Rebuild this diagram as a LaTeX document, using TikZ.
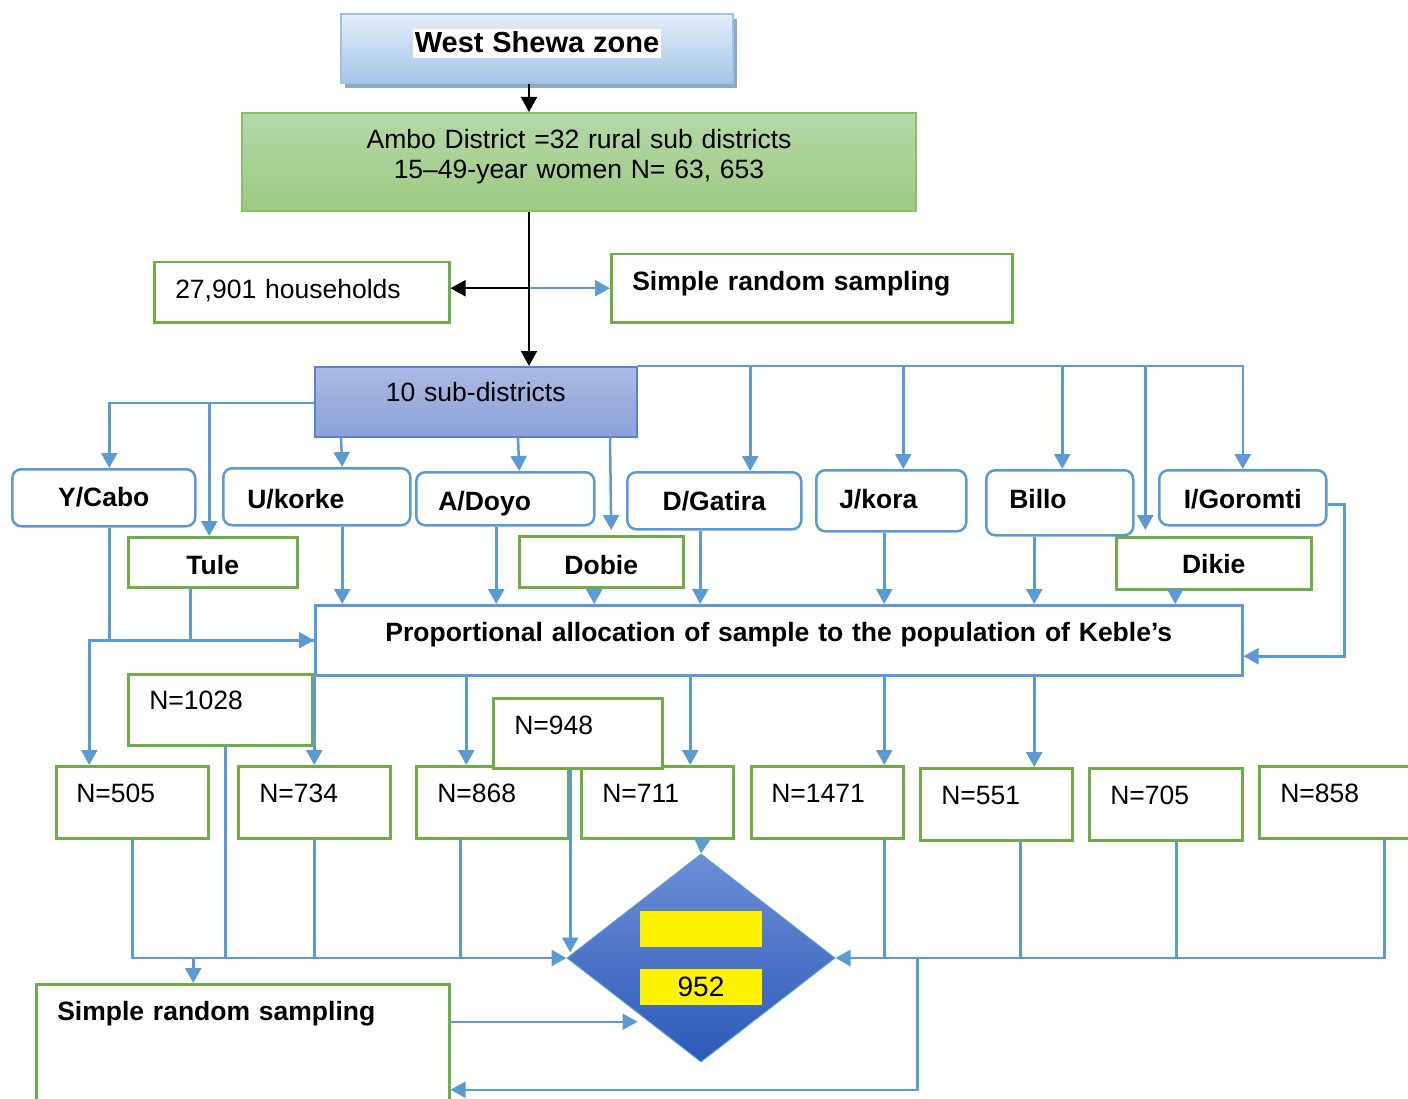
\documentclass[tikz,border=0pt]{standalone}
\usepackage{fontspec}
\setmainfont{Liberation Sans}
\usetikzlibrary{shapes.geometric,arrows.meta,shadows}
\definecolor{lineblue}{HTML}{5B9BD5}
\definecolor{boxgreen}{HTML}{70AD47}
\definecolor{zoneline}{HTML}{9CC2E5}
\definecolor{zonetop}{HTML}{E4EEF9}
\definecolor{zonebottom}{HTML}{A4C5EA}
\definecolor{zoneshadow}{HTML}{8FA8C6}
\definecolor{ambotop}{HTML}{B6D8A8}
\definecolor{ambobottom}{HTML}{9CCA82}
\definecolor{amboline}{HTML}{8CC068}
\definecolor{subtop}{HTML}{ACBAE3}
\definecolor{subbottom}{HTML}{8AA1DB}
\definecolor{subline}{HTML}{5A82D2}
\definecolor{diatop}{HTML}{6D8ED5}
\definecolor{diabottom}{HTML}{2B5AB8}
\tikzstyle{tbox} = [anchor=north west, inner ysep=0pt, align=left, fill=white]
\tikzstyle{greenbox} = [tbox, draw=boxgreen, line width=2.5pt]
\tikzstyle{roundbox} = [tbox, draw=lineblue, line width=2.5pt, rounded corners=9pt]
\tikzstyle{link} = [draw=lineblue, line width=2.5pt]
\tikzset{dims/.style n args={4}{inner xsep=#1pt, text width=#2pt, text height=#3pt, text depth=#4pt}}

\begin{document}
\begin{tikzpicture}[>={Triangle[length=15pt,width=16pt]},x=1pt,y=-1pt,font=\fontsize{26.5}{30}\selectfont]
	\useasboundingbox (0,0) rectangle (1408,1099);
	\node[tbox,dims={0}{392}{39}{30},align=center,draw=zoneline,line width=2pt,top color=zonetop,bottom color=zonebottom,
		drop shadow={shadow xshift=4pt,shadow yshift=-5pt,fill=zoneshadow,opacity=1}] (zone) at (340,13)
		{\bfseries\fontsize{29}{34}\selectfont\setlength{\fboxsep}{2pt}\colorbox{white}{\rule[-3pt]{0pt}{25pt}West Shewa zone}};
	\node[tbox,dims={0}{674}{36}{62},align=center,draw=amboline,line width=2pt,top color=ambotop,bottom color=ambobottom] (ambo) at (241,112)
		{Ambo District =32 rural sub districts\\15–49-year women N= 63, 653};
	\node[greenbox,dims={21}{253}{36}{24}] (households) at (153,261) {27,901 households};
	\node[greenbox,dims={21}{359}{36}{32}] (srs1) at (610,253) {\bfseries Simple random sampling};
	\node[tbox,dims={0}{322}{35}{35},align=center,draw=subline,line width=1.5pt,top color=subtop,bottom color=subbottom] (sub10) at (314,366) {10 sub-districts};

	\node[roundbox,dims={0}{183}{37}{20},align=center] (ycabo) at (11,468) {\bfseries Y/Cabo};
	\node[roundbox,dims={24}{139}{40}{17}] (ukorke) at (222,467) {\bfseries U/korke};
	\node[roundbox,dims={22}{134}{38}{15}] (adoyo) at (415,471) {\bfseries A/Doyo};
	\node[roundbox,dims={0}{174}{38}{19},align=center] (dgatira) at (626,471) {\bfseries D/Gatira};
	\node[roundbox,dims={23}{104}{38}{23}] (jkora) at (815,469) {\bfseries J/kora};
	\node[roundbox,dims={23}{101}{38}{27}] (billo) at (985,469) {\bfseries Billo};
	\node[roundbox,dims={0}{167}{38}{17},align=center] (igoromti) at (1158,469) {\bfseries I/Goromti};
	\node[greenbox,dims={0}{169}{37}{13},align=center] (tule) at (127,536) {\bfseries Tule};
	\node[greenbox,dims={0}{164}{38}{13},align=center] (dobie) at (518,535) {\bfseries Dobie};
	\node[greenbox,dims={0}{195}{36}{16},align=center] (dikie) at (1115,536) {\bfseries Dikie};

	\node[tbox,dims={0}{927}{36}{34},align=center,draw=lineblue,line width=2.5pt] (prop) at (314,604)
		{\bfseries Proportional allocation of sample to the population of Keble’s};

	\node[greenbox,dims={21}{142}{35}{36}] (n1028) at (127,673) {N=1028};
	\node[greenbox,dims={20}{112}{36}{36}] (n505) at (55,765) {N=505};
	\node[greenbox,dims={21}{110}{36}{36}] (n734) at (237,765) {N=734};
	\node[greenbox,dims={21}{110}{36}{36}] (n868) at (415,765) {N=868};
	\node[greenbox,dims={21}{110}{36}{36}] (n711) at (580,765) {N=711};
	\node[greenbox,dims={20}{112}{36}{36}] (n1471) at (750,765) {N=1471};
	\node[greenbox,dims={21}{110}{36}{36}] (n551) at (919,767) {N=551};
	\node[greenbox,dims={21}{111}{36}{36}] (n705) at (1088,767) {N=705};
	\node[greenbox,dims={21}{110}{36}{36}] (n858) at (1258,765) {N=858};
	\node[greenbox,dims={21}{127}{36}{34}] (n948) at (492,697) {N=948};

	\node[diamond,minimum width=268pt,minimum height=208pt,inner sep=0pt,draw=lineblue,line width=1pt,top color=diatop,bottom color=diabottom] (dia) at (701,958) {};
	\node[fill=yellow,minimum width=122pt,minimum height=36pt,inner sep=0pt] (sum) at (701,929) {};
	\node[fill=yellow,minimum width=122pt,minimum height=36pt,inner sep=0pt,font=\fontsize{28}{32}\selectfont] (total) at (701,987) {952};

	\node[greenbox,dims={21}{371}{36}{91}] (srs2) at (35,983) {\bfseries Simple random sampling};

	\coordinate (trunk) at ([xshift=-8pt]zone.south);
	\draw[link,->] (trunk |- srs1.west) -- (srs1.west);
	\draw[->,line width=2pt] (trunk |- srs1.west) -- (srs1.west -| households.east);
	\draw[->,line width=2pt] (trunk) -- (trunk |- ambo.north);
	\draw[->,line width=2pt] (trunk |- ambo.south) -- (trunk |- sub10.north);

	\draw[link,->] ([yshift=-37pt]sub10.north west) -| ([xshift=5.5pt]ycabo.north);
	\draw[link,->] ([yshift=-37pt]sub10.north west) -| ([xshift=-3.5pt]tule.north);
	\draw[link,->] ([xshift=27pt]sub10.south west) -- ([xshift=25.5pt]ukorke.north);
	\draw[link,->] ([xshift=204pt]sub10.south west) -- ([xshift=14pt]adoyo.north);
	\draw[link,->] ([xshift=296pt]sub10.south west) -- ([xshift=10pt,yshift=5pt]dobie.north);
	\draw[link,->] (sub10.north east) -| ([xshift=36pt]dgatira.north);
	\draw[link,->] (sub10.north east) -| ([xshift=12pt]jkora.north);
	\draw[link,->] (sub10.north east) -| ([xshift=2.5pt]billo.north);
	\draw[link,->] (sub10.north east) -| ([xshift=-68.5pt,yshift=6pt]dikie.north);
	\draw[link,->] (sub10.north east) -| (igoromti.north);

	\draw[link,->] ([xshift=25.5pt]ukorke.south) -- ([xshift=25.5pt]ukorke.south |- prop.north);
	\draw[link,->] ([xshift=-9pt]adoyo.south) -- ([xshift=-9pt]adoyo.south |- prop.north);
	\draw[link,->] ([xshift=-7pt]dobie.south) -- ([xshift=-7pt]dobie.south |- prop.north);
	\draw[link,->] ([xshift=-14pt]dgatira.south) -- ([xshift=-14pt]dgatira.south |- prop.north);
	\draw[link,->] ([xshift=-7pt]jkora.south) -- ([xshift=-7pt]jkora.south |- prop.north);
	\draw[link,->] ([xshift=-25.5pt]billo.south) -- ([xshift=-25.5pt]billo.south |- prop.north);
	\draw[link,->] ([xshift=-38.5pt]dikie.south) -- ([xshift=-38.5pt]dikie.south |- prop.north);
	\draw[link,->] ([yshift=-6.5pt]igoromti.east) -- ++(17,0) |- ([yshift=-16pt]prop.east);
	\draw[link,->] ([xshift=5.5pt]ycabo.south) |- (prop.west);
	\draw[link] ([xshift=-22.5pt]tule.south) -- ([xshift=-22.5pt]tule.south |- prop.west);
	\draw[link,->] (prop.west) -| ([xshift=-43pt]n505.north);

	\draw[link,->] (n734.north |- prop.south) -- (n734.north);
	\draw[link,->] ([xshift=-26pt]n868.north |- prop.south) -- ([xshift=-26pt]n868.north);
	\draw[link,->] ([xshift=33pt]n711.north |- prop.south) -- ([xshift=33pt]n711.north);
	\draw[link,->] ([xshift=57pt]n1471.north |- prop.south) -- ([xshift=57pt]n1471.north);
	\draw[link,->] ([xshift=38pt]n551.north |- prop.south) -- ([xshift=38pt]n551.north);

	\draw[link,->] ([xshift=45pt]n711.south) -- (dia.north);
	\draw[link,->] (n505.south) |- (dia.west);
	\draw[link] ([xshift=5pt]n1028.south) -- ([xshift=5pt]n1028.south |- dia.west);
	\draw[link] (n734.south) -- (n734.south |- dia.west);
	\draw[link] ([xshift=-32pt]n868.south) -- ([xshift=-32pt]n868.south |- dia.west);
	\draw[link,->] ([xshift=-7.5pt]n948.south) -- ++(0,183);
	\draw[link,->] ([xshift=-49.5pt]srs2.north |- dia.west) -- ([xshift=-49.5pt]srs2.north);
	\draw[link,->] ([xshift=49pt]n858.south) |- (dia.east);
	\draw[link] ([xshift=10.5pt]n705.south) -- ([xshift=10.5pt]n705.south |- dia.east);
	\draw[link] ([xshift=24pt]n551.south) -- ([xshift=24pt]n551.south |- dia.east);
	\draw[link] ([xshift=57pt]n1471.south) -- ([xshift=57pt]n1471.south |- dia.east);
	\draw[link,->] ([xshift=82pt]dia.east) |- ([yshift=-42pt]srs2.east);
	\draw[link,->] ([yshift=26pt]srs2.east) -- ++(187,0);
\end{tikzpicture}
\end{document}
